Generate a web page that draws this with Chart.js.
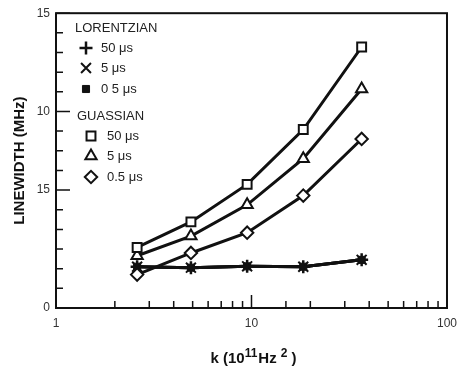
<!DOCTYPE html>
<html>
<head>
<meta charset="utf-8">
<title>Linewidth vs k</title>
<style>
  html, body { margin: 0; padding: 0; background: #fff; }
  #wrap { position: relative; width: 465px; height: 370px; }
</style>
<script src="https://cdn.jsdelivr.net/npm/chart.js@4.4.1/dist/chart.umd.min.js"></script>
</head>
<body>
<div id="wrap"><canvas id="linewidth-chart"></canvas></div>
<script>
// k in units of 10^11 Hz^2
var kValues = [2.6, 4.9, 9.5, 18.4, 36.6];

// linewidth (MHz), lorentzian fits
var lorentz50 = [2.1, 2.05, 2.12, 2.1, 2.45];
var lorentz5 = [2.1, 2.05, 2.12, 2.1, 2.45];
var lorentz05 = [2.1, 2.05, 2.12, 2.1, 2.45];

// linewidth (MHz), gaussian fits
var gauss50 = [3.08, 4.38, 6.29, 9.08, 13.28];
var gauss5 = [2.66, 3.66, 5.25, 7.6, 11.14];
var gauss05 = [1.7, 2.8, 3.83, 5.72, 8.6];

var xTickValues = [1, 10, 100];
var xTickText = ["1", "10", "100"];
var yTickValues = [0, 6, 10, 15];
var yTickText = ["0", "15", "10", "15"];

(function () {
  "use strict";

  var FONT = "'Liberation Sans', Arial, Helvetica, sans-serif";
  var INK = "#111";

  function toPoints(values) {
    return values.map(function (v, i) {
      return { x: kValues[i], y: v };
    });
  }

  function series(label, group, values, style, radius, filled, markWidth) {
    return {
      label: label,
      group: group,
      data: toPoints(values),
      borderColor: INK,
      borderWidth: 3,
      tension: 0,
      fill: false,
      pointStyle: style,
      pointRadius: radius,
      pointHoverRadius: radius,
      pointBorderColor: INK,
      pointBackgroundColor: filled ? INK : "#fff",
      pointBorderWidth: markWidth
    };
  }

  // frame round the plot plus inward tick marks on the two axes
  var frameTicks = {
    id: "frameTicks",
    afterDraw: function (chart) {
      var ctx = chart.ctx;
      var area = chart.chartArea;
      var xs = chart.scales.x;
      var ys = chart.scales.y;
      ctx.save();
      ctx.strokeStyle = INK;
      ctx.lineWidth = 2;
      ctx.strokeRect(area.left, area.top, area.right - area.left, area.bottom - area.top);
      ctx.lineWidth = 1.5;
      ctx.beginPath();
      xs.ticks.forEach(function (tick) {
        var px = xs.getPixelForValue(tick.value);
        var len = xTickValues.indexOf(tick.value) >= 0 ? 13 : 7;
        ctx.moveTo(px, area.bottom);
        ctx.lineTo(px, area.bottom - len);
      });
      ys.ticks.forEach(function (tick) {
        var py = ys.getPixelForValue(tick.value);
        var len = yTickValues.indexOf(tick.value) >= 0 ? 14 : 7;
        ctx.moveTo(area.left, py);
        ctx.lineTo(area.left + len, py);
      });
      ctx.stroke();
      ctx.restore();
    }
  };

  // x axis title with real superscripts
  var xTitle = {
    id: "xTitle",
    afterDraw: function (chart) {
      var ctx = chart.ctx;
      var area = chart.chartArea;
      var parts = [
        { text: "k (10", sup: false, gap: 0 },
        { text: "11", sup: true, gap: 1 },
        { text: "Hz", sup: false, gap: 4 },
        { text: "2", sup: true, gap: 0 },
        { text: " )", sup: false, gap: 0 }
      ];
      var main = "bold 15px " + FONT;
      var small = "bold 12px " + FONT;
      var total = 0;
      ctx.save();
      parts.forEach(function (p) {
        ctx.font = p.sup ? small : main;
        p.w = ctx.measureText(p.text).width + p.gap;
        total += p.w;
      });
      var x = (area.left + area.right) / 2 + 2 - total / 2;
      var base = 363;
      ctx.fillStyle = INK;
      ctx.textBaseline = "alphabetic";
      ctx.textAlign = "left";
      parts.forEach(function (p) {
        ctx.font = p.sup ? small : main;
        ctx.fillText(p.text, x, p.sup ? base - 6 : base);
        x += p.w;
      });
      ctx.restore();
    }
  };

  // legend split into the two fit groups, each with its own heading
  var groupLegend = {
    id: "groupLegend",
    afterDraw: function (chart) {
      var helpers = Chart.helpers;
      var ctx = chart.ctx;
      var blocks = [
        { group: "LORENTZIAN", x: 75, y: 28, markX: 86, textX: 101, rows: [48, 68, 89] },
        { group: "GUASSIAN", x: 77, y: 116, markX: 91, textX: 107, rows: [136, 156, 177] }
      ];
      ctx.save();
      ctx.font = "13px " + FONT;
      ctx.textBaseline = "middle";
      ctx.textAlign = "left";
      blocks.forEach(function (block) {
        ctx.fillStyle = "#222";
        ctx.fillText(block.group, block.x, block.y);
        var sets = chart.data.datasets.filter(function (ds) {
          return ds.group === block.group;
        });
        sets.forEach(function (ds, i) {
          var y = block.rows[i];
          if (helpers && typeof helpers.drawPoint === "function") {
            ctx.fillStyle = ds.pointBackgroundColor;
            ctx.strokeStyle = ds.pointBorderColor;
            ctx.lineWidth = ds.pointBorderWidth;
            helpers.drawPoint(ctx, {
              pointStyle: ds.pointStyle,
              radius: ds.pointRadius,
              rotation: 0,
              borderWidth: ds.pointBorderWidth
            }, block.markX, y);
          }
          ctx.fillStyle = "#222";
          ctx.fillText(ds.label, block.textX, y);
        });
      });
      ctx.restore();
    }
  };

  function tickLabel(values, texts) {
    return function (value) {
      var idx = values.indexOf(Number(value));
      return idx >= 0 ? texts[idx] : "";
    };
  }

  function renderChart() {
    var canvas = document.getElementById("linewidth-chart");
    var ctx = canvas.getContext("2d");
    new Chart(ctx, {
      type: "line",
      data: {
        datasets: [
          series("50 \u03bcs", "GUASSIAN", gauss50, "rect", 6.3, false, 2),
          series("5 \u03bcs", "GUASSIAN", gauss5, "triangle", 6.5, false, 2),
          series("0.5 \u03bcs", "GUASSIAN", gauss05, "rectRot", 6.2, false, 2),
          series("50 \u03bcs", "LORENTZIAN", lorentz50, "cross", 6.5, false, 2.5),
          series("5 \u03bcs", "LORENTZIAN", lorentz5, "crossRot", 7, false, 2),
          series("0 5 \u03bcs", "LORENTZIAN", lorentz05, "rect", 5, true, 1)
        ]
      },
      options: {
        responsive: true,
        maintainAspectRatio: false,
        animation: false,
        devicePixelRatio: 1,
        layout: { padding: { top: 8, right: 12, bottom: 0, left: 0 } },
        plugins: {
          legend: { display: false },
          tooltip: { enabled: false }
        },
        scales: {
          x: {
            type: "logarithmic",
            min: 1,
            max: 100,
            grid: { display: false, drawTicks: false },
            border: { display: false },
            ticks: {
              autoSkip: false,
              maxRotation: 0,
              padding: 8,
              color: "#333",
              font: { family: FONT, size: 12 },
              callback: tickLabel(xTickValues, xTickText)
            },
            afterFit: function (scale) {
              scale.height = 62;
            }
          },
          y: {
            type: "linear",
            min: 0,
            max: 15,
            grid: { display: false, drawTicks: false },
            border: { display: false },
            ticks: {
              stepSize: 1,
              autoSkip: false,
              padding: 6,
              color: "#333",
              font: { family: FONT, size: 12 },
              callback: tickLabel(yTickValues, yTickText)
            },
            title: {
              display: true,
              text: "LINEWIDTH (MHz)",
              color: INK,
              padding: { top: 11, bottom: 0 },
              font: { family: FONT, size: 15, weight: "bold" }
            },
            afterFit: function (scale) {
              scale.width = 56;
            }
          }
        }
      },
      plugins: [frameTicks, xTitle, groupLegend]
    });
  }

  if (document.readyState === "loading") {
    document.addEventListener("DOMContentLoaded", renderChart);
  } else {
    renderChart();
  }
})();
</script>
</body>
</html>
